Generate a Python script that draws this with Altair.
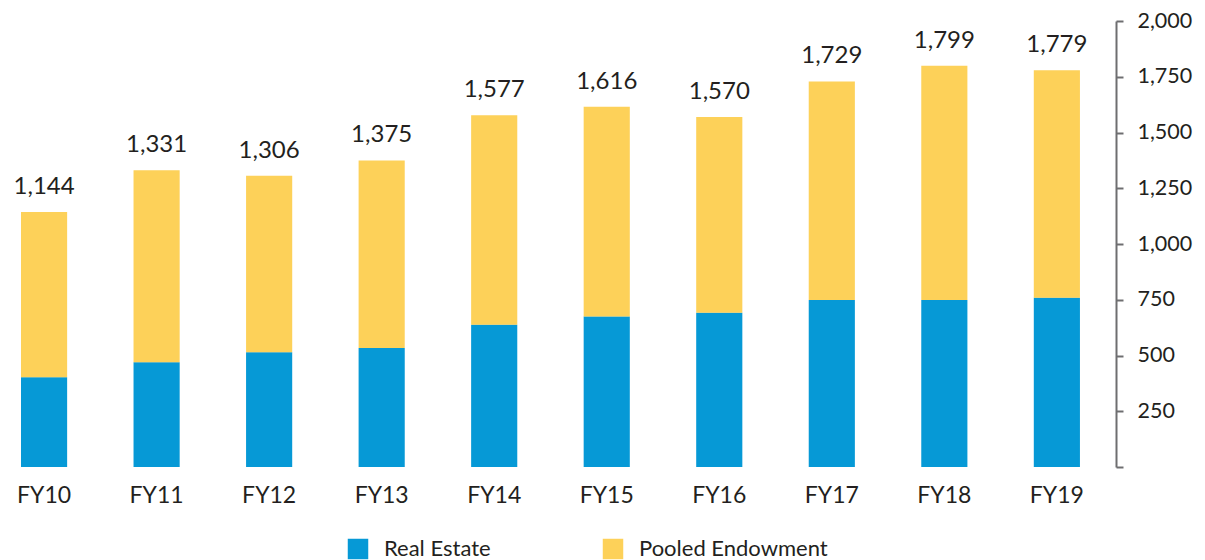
import altair as alt
import pandas as pd

categories = ["FY10", "FY11", "FY12", "FY13", "FY14", "FY15", "FY16", "FY17", "FY18", "FY19"]
real_estate = [403, 470, 515, 534, 638, 675, 692, 749, 749, 759]
pooled_endowment = [741, 861, 791, 841, 939, 941, 878, 980, 1050, 1020]
totals = [1144, 1331, 1306, 1375, 1577, 1616, 1570, 1729, 1799, 1779]
series_names = ["Real Estate", "Pooled Endowment"]
y_ticks = [0, 250, 500, 750, 1000, 1250, 1500, 1750, 2000]

rows = []
for i, c in enumerate(categories):
    rows.append({"year": c, "series": series_names[0], "value": real_estate[i], "ord": 0})
    rows.append({"year": c, "series": series_names[1], "value": pooled_endowment[i], "ord": 1})
df = pd.DataFrame(rows)
tot_df = pd.DataFrame({"year": categories, "total": totals})

FONT = "Lato"
TXT = "#231f20"

x_enc = alt.X("year:N", sort=categories,
              scale=alt.Scale(paddingInner=0.59, paddingOuter=0.218, align=0.265),
              axis=alt.Axis(title=None, domain=False, ticks=False, labelFontSize=23,
                            labelFont=FONT, labelColor=TXT, labelPadding=17, labelAngle=0))

bars = alt.Chart(df).mark_bar().encode(
    x=x_enc,
    y=alt.Y("value:Q", stack="zero",
            scale=alt.Scale(domain=[0, 2000], nice=False),
            axis=alt.Axis(title=None, orient="right", values=y_ticks,
                          labelExpr="datum.value == 0 ? '' : format(datum.value, ',')",
                          grid=False, domainColor="#6e6e70", domainWidth=2,
                          tickColor="#6e6e70", tickWidth=2, tickSize=7,
                          labelPadding=14, labelFontSize=21.5, labelFont=FONT,
                          labelColor=TXT)),
    color=alt.Color("series:N",
                    scale=alt.Scale(domain=series_names, range=["#0699D6", "#FCC42A"]),
                    legend=alt.Legend(title=None, orient="none", direction="horizontal",
                                      legendX=339, legendY=517,
                                      symbolType="square", symbolSize=420,
                                      symbolStrokeWidth=0, labelFontSize=22,
                                      labelFont=FONT, labelColor=TXT, labelOffset=15,
                                      columnPadding=111, labelLimit=400)),
    opacity=alt.Opacity("series:N",
                        scale=alt.Scale(domain=series_names, range=[1.0, 0.78]),
                        legend=None),
    order=alt.Order("ord:Q"),
)

labels = alt.Chart(tot_df).mark_text(
    baseline="bottom", dy=-13, fontSize=24, font=FONT, color=TXT
).encode(
    x=alt.X("year:N", sort=categories),
    y=alt.Y("total:Q"),
    text=alt.Text("total:Q", format=","),
)

chart = alt.layer(bars, labels).properties(
    width=1108, height=446,
    autosize=alt.AutoSizeParams(type="none"),
    padding={"left": 0, "top": 13, "right": 81, "bottom": 93},
).configure_view(stroke=None)

chart.save("out.html", embed_options={"renderer": "svg", "actions": False})
